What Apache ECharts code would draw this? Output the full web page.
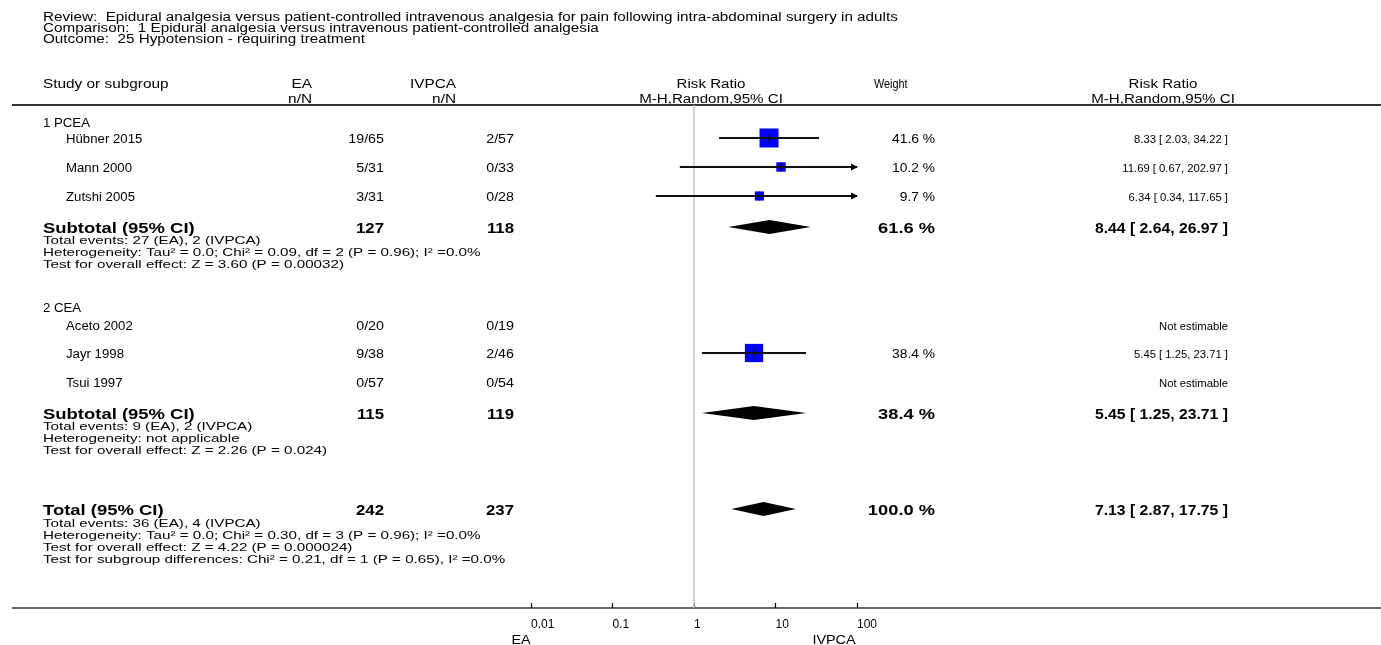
<!DOCTYPE html>
<html><head><meta charset="utf-8">
<script src="https://cdn.jsdelivr.net/npm/echarts@6/dist/echarts.min.js"></script>
<style>html,body{margin:0;padding:0;background:#fff}#c{width:1381px;height:645px}</style>
</head><body><div id="c"></div>
<script>
// ---------- DATA ----------
const titleLines = [
  'Review:  Epidural analgesia versus patient-controlled intravenous analgesia for pain following intra-abdominal surgery in adults',
  'Comparison:  1 Epidural analgesia versus intravenous patient-controlled analgesia',
  'Outcome:  25 Hypotension - requiring treatment'
];
const subgroupLabels = ['1 PCEA', '2 CEA'];
const studyNames = ['Hübner 2015', 'Mann 2000', 'Zutshi 2005', 'Aceto 2002', 'Jayr 1998', 'Tsui 1997'];
const eaCounts = ['19/65', '5/31', '3/31', '0/20', '9/38', '0/57'];
const ivCounts = ['2/57', '0/33', '0/28', '0/19', '2/46', '0/54'];
const weights = [41.6, 10.2, 9.7, null, 38.4, null];
const rr = [8.33, 11.69, 6.34, null, 5.45, null];
const rrLow = [2.03, 0.67, 0.34, null, 1.25, null];
const rrHigh = [34.22, 202.97, 117.65, null, 23.71, null];
const subtotalEA = [127, 115];
const subtotalIV = [118, 119];
const subtotalWeight = [61.6, 38.4];
const subtotalRR = [8.44, 5.45];
const subtotalLow = [2.64, 1.25];
const subtotalHigh = [26.97, 23.71];
const subtotalNotes = [
  ['Total events: 27 (EA), 2 (IVPCA)',
   'Heterogeneity: Tau\u00B2 = 0.0; Chi\u00B2 = 0.09, df = 2 (P = 0.96); I\u00B2 =0.0%',
   'Test for overall effect: Z = 3.60 (P = 0.00032)'],
  ['Total events: 9 (EA), 2 (IVPCA)',
   'Heterogeneity: not applicable',
   'Test for overall effect: Z = 2.26 (P = 0.024)']
];
const totalEA = 242, totalIV = 237, totalWeight = 100.0;
const totalRR = 7.13, totalLow = 2.87, totalHigh = 17.75;
const totalNotes = [
  'Total events: 36 (EA), 4 (IVPCA)',
  'Heterogeneity: Tau\u00B2 = 0.0; Chi\u00B2 = 0.30, df = 3 (P = 0.96); I\u00B2 =0.0%',
  'Test for overall effect: Z = 4.22 (P = 0.000024)',
  'Test for subgroup differences: Chi\u00B2 = 0.21, df = 1 (P = 0.65), I\u00B2 =0.0%'
];
const axisTicks = [0.01, 0.1, 1, 10, 100];
const axisTickLabels = ['0.01', '0.1', '1', '10', '100'];
const favoursLeft = 'EA', favoursRight = 'IVPCA';

// ---------- LAYOUT (positions / styles) ----------
const FONT = '"Liberation Sans", Arial, Helvetica, sans-serif';
const L = {
  left: 43, ruleLeft: 12, ruleRight: 1381,
  titleY: [16, 27, 38], headY: [83, 98], ruleY: 105,
  groupY: [122, 307], studyY: [138, 167, 196, 325, 353, 382],
  subtotalY: [227, 413], noteStep: 12, subNoteY0: [239, 425],
  totalY: 509, totalNoteY0: 522, axisY: 608,
  studyX: 66, eaRight: 384, ivRight: 514, wRight: 935, rrRight: 1228,
  eaHeadRight: 312, ivHeadRight: 456, plotHeadX: 711, weightHeadX: 874, rrHeadX: 1163,
  plotLeft: 531, plotRight: 857, textDY: 1.5
};
// font sizes and horizontal text stretch per text category
const FS = {base: 12, note: 11.5, rr: 11.5, weightHead: 12, bold: 15, axis: 12};
const SXS = {title: 1.27, head: 1.28, plotHead: 1.26, weightHead: 0.9, name: 1.1, count: 1.19, weight: 1.15, rr: 0.98, note: 1.32,
  boldLabel: 1.23, boldCount: 1.12, boldWeight: 1.22, boldRR: 1.05, favours: 1.2};
const SQ = 19 / Math.sqrt(41.6);
const DIAMOND_H = 7;

const fmtRR = (e, l, h) => e.toFixed(2) + ' [ ' + l.toFixed(2) + ', ' + h.toFixed(2) + ' ]';
const fmtW = w => w.toFixed(1) + ' %';

const g = [];
function txt(s, x, y, opt) {
  opt = opt || {};
  g.push({
    type: 'text', x: x, y: y + L.textDY, scaleX: opt.sx || 1, silent: true,
    style: {
      text: s, fill: '#000', font: (opt.bold ? 'bold ' : '') + (opt.size || FS.base) + 'px ' + FONT,
      textAlign: opt.align || 'left', textVerticalAlign: 'middle'
    }
  });
}
// titles
titleLines.forEach((t, i) => txt(t, L.left, L.titleY[i], {sx: SXS.title}));
// header
txt('Study or subgroup', L.left, L.headY[0], {sx: SXS.head});
txt('EA', L.eaHeadRight, L.headY[0], {align: 'right', sx: SXS.head});
txt('n/N', L.eaHeadRight, L.headY[1], {align: 'right', sx: SXS.head});
txt('IVPCA', L.ivHeadRight, L.headY[0], {align: 'right', sx: SXS.head});
txt('n/N', L.ivHeadRight, L.headY[1], {align: 'right', sx: SXS.head});
txt('Risk Ratio', L.plotHeadX, L.headY[0], {align: 'center', sx: SXS.plotHead});
txt('M-H,Random,95% CI', L.plotHeadX, L.headY[1], {align: 'center', sx: SXS.plotHead});
txt('Weight', L.weightHeadX, L.headY[0], {size: FS.weightHead, sx: SXS.weightHead});
txt('Risk Ratio', L.rrHeadX, L.headY[0], {align: 'center', sx: SXS.plotHead});
txt('M-H,Random,95% CI', L.rrHeadX, L.headY[1], {align: 'center', sx: SXS.plotHead});
g.push({type: 'line', silent: true, shape: {x1: L.ruleLeft, y1: L.ruleY, x2: L.ruleRight, y2: L.ruleY}, style: {stroke: '#333', lineWidth: 2}});
g.push({type: 'line', silent: true, shape: {x1: L.ruleLeft, y1: L.axisY, x2: L.ruleRight, y2: L.axisY}, style: {stroke: '#333', lineWidth: 1.5}});

const B = {bold: true, size: FS.bold};
const bo = o => Object.assign({}, B, o);
// subgroups
subgroupLabels.forEach((s, gi) => {
  txt(s, L.left, L.groupY[gi], {sx: SXS.name});
  txt('Subtotal (95% CI)', L.left, L.subtotalY[gi], bo({sx: SXS.boldLabel}));
  txt(String(subtotalEA[gi]), L.eaRight, L.subtotalY[gi], bo({align: 'right', sx: SXS.boldCount}));
  txt(String(subtotalIV[gi]), L.ivRight, L.subtotalY[gi], bo({align: 'right', sx: SXS.boldCount}));
  txt(fmtW(subtotalWeight[gi]), L.wRight, L.subtotalY[gi], bo({align: 'right', sx: SXS.boldWeight}));
  txt(fmtRR(subtotalRR[gi], subtotalLow[gi], subtotalHigh[gi]), L.rrRight, L.subtotalY[gi], bo({align: 'right', sx: SXS.boldRR}));
  subtotalNotes[gi].forEach((n, k) => txt(n, L.left, L.subNoteY0[gi] + k * L.noteStep, {size: FS.note, sx: SXS.note}));
});
studyNames.forEach((s, i) => {
  const y = L.studyY[i];
  txt(s, L.studyX, y, {sx: SXS.name});
  txt(eaCounts[i], L.eaRight, y, {align: 'right', sx: SXS.count});
  txt(ivCounts[i], L.ivRight, y, {align: 'right', sx: SXS.count});
  if (weights[i] != null) {
    txt(fmtW(weights[i]), L.wRight, y, {align: 'right', sx: SXS.weight});
    txt(fmtRR(rr[i], rrLow[i], rrHigh[i]), L.rrRight, y, {align: 'right', size: FS.rr, sx: SXS.rr});
  } else {
    txt('Not estimable', L.rrRight, y, {align: 'right', size: FS.rr, sx: SXS.rr});
  }
});
txt('Total (95% CI)', L.left, L.totalY, bo({sx: SXS.boldLabel}));
txt(String(totalEA), L.eaRight, L.totalY, bo({align: 'right', sx: SXS.boldCount}));
txt(String(totalIV), L.ivRight, L.totalY, bo({align: 'right', sx: SXS.boldCount}));
txt(fmtW(totalWeight), L.wRight, L.totalY, bo({align: 'right', sx: SXS.boldWeight}));
txt(fmtRR(totalRR, totalLow, totalHigh), L.rrRight, L.totalY, bo({align: 'right', sx: SXS.boldRR}));
totalNotes.forEach((n, k) => txt(n, L.left, L.totalNoteY0 + k * L.noteStep, {size: FS.note, sx: SXS.note}));
txt(favoursLeft, 521, 639, {align: 'center', sx: SXS.favours});
txt(favoursRight, 834, 639, {align: 'center', sx: SXS.favours});

// ---------- SERIES DATA ----------
const studyData = [];
studyNames.forEach((s, i) => {
  if (rr[i] != null) studyData.push([rr[i], rrLow[i], rrHigh[i], weights[i], L.studyY[i]]);
});
const diamondData = subtotalRR.map((e, gi) => [e, subtotalLow[gi], subtotalHigh[gi], L.subtotalY[gi]]);
diamondData.push([totalRR, totalLow, totalHigh, L.totalY]);
const XMIN = axisTicks[0], XMAX = axisTicks[axisTicks.length - 1];

const chart = echarts.init(document.getElementById('c'), null, {renderer: 'canvas'});
chart.setOption({
  animation: false,
  backgroundColor: '#fff',
  grid: {left: L.plotLeft, right: 1381 - L.plotRight, top: L.ruleY, bottom: 645 - L.axisY},
  xAxis: {
    type: 'log', logBase: 10, min: XMIN, max: XMAX,
    axisLine: {show: false},
    axisTick: {show: true, inside: true, length: 5, lineStyle: {color: '#000', width: 1.2}},
    axisLabel: {align: 'left', margin: 11, fontSize: FS.axis, fontFamily: FONT, color: '#000',
      formatter: v => { const k = axisTicks.findIndex(t => Math.abs(Math.log10(t) - Math.log10(v)) < 1e-6); return k >= 0 ? axisTickLabels[k] : ''; }},
    splitLine: {show: false}
  },
  yAxis: {type: 'value', inverse: true, min: L.ruleY, max: L.axisY, show: false, splitLine: {show: false}},
  series: [
    {
      type: 'custom', name: 'ref', coordinateSystem: 'cartesian2d', clip: false,
      data: [[1]],
      renderItem: (params, api) => {
        const p0 = api.coord([api.value(0), L.ruleY]);
        const p1 = api.coord([api.value(0), L.axisY]);
        return {type: 'line', shape: {x1: p0[0], y1: p0[1], x2: p1[0], y2: p1[1]}, style: {stroke: '#c4c4c4', lineWidth: 1.5}};
      }
    },
    {
      type: 'custom', name: 'studies', coordinateSystem: 'cartesian2d', clip: false,
      data: studyData,
      renderItem: (params, api) => {
        const est = api.value(0), lo = api.value(1), hi = api.value(2), w = api.value(3), y = api.value(4);
        const p0 = api.coord([Math.max(lo, XMIN), y]);
        const p1 = api.coord([Math.min(hi, XMAX), y]);
        const pc = api.coord([est, y]);
        const s = SQ * Math.sqrt(w);
        const ch = [
          {type: 'rect', shape: {x: pc[0] - s / 2, y: pc[1] - s / 2, width: s, height: s}, style: {fill: '#0000ff'}},
          {type: 'line', shape: {x1: p0[0], y1: p0[1], x2: p1[0], y2: p1[1]}, style: {stroke: '#111', lineWidth: 1.8}},
          {type: 'line', shape: {x1: pc[0], y1: pc[1] - Math.min(4.5, s / 2), x2: pc[0], y2: pc[1] + Math.min(4.5, s / 2)}, style: {stroke: '#111', lineWidth: 1.2}}
        ];
        if (hi > XMAX) ch.push({type: 'polygon', shape: {points: [[p1[0] + 1, p1[1]], [p1[0] - 6, p1[1] - 3.5], [p1[0] - 6, p1[1] + 3.5]]}, style: {fill: '#000'}});
        if (lo < XMIN) ch.push({type: 'polygon', shape: {points: [[p0[0] - 1, p0[1]], [p0[0] + 6, p0[1] - 3.5], [p0[0] + 6, p0[1] + 3.5]]}, style: {fill: '#000'}});
        return {type: 'group', children: ch};
      }
    },
    {
      type: 'custom', name: 'pooled', coordinateSystem: 'cartesian2d', clip: false,
      data: diamondData,
      renderItem: (params, api) => {
        const e = api.coord([api.value(0), api.value(3)]);
        const l = api.coord([api.value(1), api.value(3)]);
        const h = api.coord([api.value(2), api.value(3)]);
        return {type: 'polygon', shape: {points: [[l[0], l[1]], [e[0], e[1] - DIAMOND_H], [h[0], h[1]], [e[0], e[1] + DIAMOND_H]]}, style: {fill: '#000'}};
      }
    }
  ],
  graphic: g
});
</script>
</body></html>
